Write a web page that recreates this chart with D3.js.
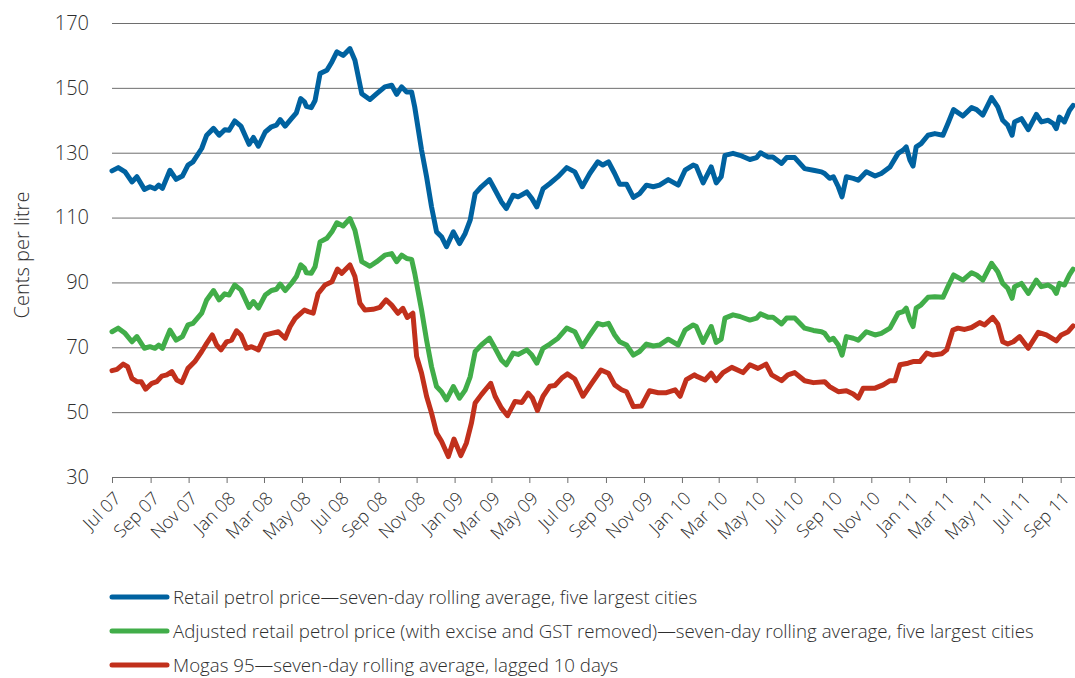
<!DOCTYPE html>
<html>
<head>
<meta charset="utf-8">
<script src="https://cdn.jsdelivr.net/npm/d3@7"></script>
<style>
  body { margin: 0; background: #fff; }
  svg text { font-family: "Open Sans", "Noto Sans", sans-serif; font-weight: 300; fill: #2e2e2e; }
</style>
</head>
<body>
<svg id="chart" width="1075" height="678"></svg>
<script>
// days counted from 1 July 2007
let startDate = new Date(2007, 6, 1);
let endDate = new Date(2011, 8, 24);

let priceDays = [
    0,10,21,32,40,52,61,69,75,81,93,103,113,122,130,144,152,163,172,181,188,197,207,220,227,235,246,256,264,270,278,288,296,303,309,
    312,320,326,334,345,353,361,371,382,390,401,414,425,438,449,457,465,473,481,486,497,505,513,521,529,537,548,558,567,575,583,593,606,615,
    625,633,644,652,666,674,682,692,703,716,730,743,755,767,780,788,797,807,815,826,837,847,858,869,879,893,909,920,933,
    938,949,962,970,978,984,997,1008,1024,1035,1041,1053,1061,1075,1083,1096,1112,1126,1139,1144,1152,1158,1166,1172,1179,1190,1198,1211,
    1225,1235,1249,1262,1270,1275,1281,1286,1291,1299,1310,1321,1334,1342,1351,1366,1380,1388,1398,1412,1422,1430,1438,1445,1449,1460,1471,1484,1492,1503,1511,1516,1521,1529,1537,1543
];

let retailCents = [
    124.4,125.4,124.1,121,122.6,118.7,119.5,118.9,120,119,124.6,121.8,122.8,126.2,127.2,131.3,135.4,137.5,135.4,137.1,136.9,139.8,138.2,132.6,134.7,132,136.4,138,138.5,140.2,138.2,140.5,142.3,146.7,145.7,
    144.3,143.9,146.1,154.4,155.4,158,161.1,160,162.1,158.5,148.2,146.4,148.2,150.3,150.8,148,150.3,148.7,148.7,144.1,130.8,122.6,113.3,105.6,104.1,101,105.6,102,105.1,109.2,117.4,119.5,121.7,118.5,
    114.9,112.8,116.9,116.4,117.9,115.9,113.3,118.9,120.5,122.6,125.4,124.1,119.5,123.6,127.2,126.2,127.2,123.6,120.3,120.3,116.2,117.4,120,119.5,120,121.7,120,124.6,126.2,
    125.8,120.7,125.6,120.7,122.6,129.2,129.8,129.2,127.9,128.5,130,128.7,128.7,126.7,128.5,128.5,125.1,124.6,124.1,123.6,122.1,122.6,119.5,116.4,122.6,122.1,121.5,124.1,
    122.8,123.6,125.6,129.8,130.8,131.8,127.7,125.9,131.8,132.8,135.4,135.9,135.4,139,143.3,141.3,143.9,143.3,141.6,147,144.1,140,138.5,135.4,139.5,140.5,137.1,141.8,139.5,140,139,137.4,141,139.5,143,144.6
];

let adjustedCents = [
    74.8,75.9,74.3,71.7,73.3,69.7,70.2,69.7,70.7,69.7,75.3,72.2,73.3,76.9,77.4,80.5,84.6,87.5,84.6,86.5,86.1,89.2,87.7,82.3,84.1,82.1,86.1,87.5,87.9,89.5,87.5,89.7,91.8,95.4,94.4,
    93,92.8,94.8,102.5,103.6,105.6,108.4,107.4,109.7,106.1,96.4,95,96.4,98.4,98.9,96.4,98.4,97.4,97.1,92.8,81.5,72.2,64,57.9,56.3,53.8,57.9,54.3,56.8,60.9,68.7,70.7,72.8,69.7,
    66.1,64.6,68.2,67.8,69.2,67.6,65.1,69.7,71,72.8,75.9,74.8,70.2,73.8,77.4,76.9,77.4,73.8,71.7,70.7,67.6,68.7,71,70.4,70.7,72.5,70.7,75.3,76.9,
    76.4,71.5,76.4,71.5,72.5,79,80,79.5,78.4,79,80.3,79.3,79.3,77.2,79,79,75.9,75.2,74.8,74.3,72.2,72.8,70.7,67.6,73.3,72.8,72.2,74.8,
    73.8,74.3,75.9,80.5,81,82.1,78.4,76.4,82.1,83.1,85.4,85.6,85.4,88.7,92.3,90.7,93,92.3,90.7,95.9,93.3,89.7,88.2,85.1,88.7,89.7,86.6,90.7,88.7,89.2,88.2,86.6,89.7,89.2,92.3,94.1
];

let mogasDays = [
    0,8,18,25,32,40,47,54,64,72,80,88,96,104,112,122,133,144,152,161,168,175,184,192,200,207,216,224,235,246,256,267,278,286,294,302,309,
    315,323,331,342,353,362,369,374,382,390,398,406,419,430,440,449,459,467,474,483,489,497,505,513,521,529,540,549,560,569,577,583,593,608,615,
    625,635,647,658,668,675,683,692,703,711,722,731,743,756,770,785,797,807,818,826,837,850,863,877,890,904,912,922,935,
    938,952,962,970,981,995,1013,1024,1037,1050,1059,1075,1085,1096,1112,1126,1144,1152,1166,1179,1190,1198,1206,1219,
    1225,1238,1249,1257,1265,1278,1286,1297,1308,1318,1332,1340,1350,1358,1369,1380,1393,1401,1414,1422,1430,1438,1447,1457,1471,1487,1500,1516,1524,1535,1543
];

let mogasCents = [
    62.8,63.2,64.8,64,60.4,59.4,59.4,57.1,58.9,59.4,61.1,61.5,62.5,59.9,59.1,63.5,65.6,68.7,71.2,73.8,70.7,69.2,71.7,72.2,75.1,73.8,69.7,70.2,69.2,73.8,74.3,74.8,72.8,76.4,78.9,80.3,81.5,
    81,80.5,86.6,89.2,90.2,94.1,92.8,93.8,95.4,91.8,83.6,81.5,81.7,82.3,84.6,83,80.5,82,79.2,80.5,67.2,62,54.9,49.7,43.6,41,36.3,41.7,36.6,40.5,46.6,52.8,55.4,58.9,54.9,
    51.3,48.9,53.3,53,55.9,54.3,50.5,54.9,58,58.2,60.5,61.8,60.2,54.9,58.9,63,62,58.4,56.9,56.3,51.7,51.9,56.6,56,56,56.9,54.9,60,61.5,
    61.1,59.9,62,59.7,62.2,63.8,62.2,64.6,63.5,64.8,61.5,59.7,61.5,62.2,59.7,59.1,59.4,57.9,56.3,56.6,55.6,54.3,57.4,57.4,
    57.4,58.4,59.7,59.7,64.6,65.1,65.6,65.6,68.2,67.6,68,69.2,75.3,75.9,75.5,76.1,77.6,76.9,79.2,77.2,71.7,71,71.7,73.3,69.7,74.6,73.8,72,73.8,74.8,76.6
];

let yTicks = [30, 50, 70, 90, 110, 130, 150, 170];

let seriesNames = [
    'Retail petrol price\u2014seven-day rolling average, five largest cities',
    'Adjusted retail petrol price (with excise and GST removed)\u2014seven-day rolling average, five largest cities',
    'Mogas 95\u2014seven-day rolling average, lagged 10 days'
];
let seriesColors = ['#0062a0', '#41ad49', '#c1301c'];

let margin = {top: 23, right: 0, bottom: 201, left: 112};
let width = 1075 - margin.left - margin.right;
let height = 678 - margin.top - margin.bottom;

let svg = d3.select('#chart');
let g = svg.append('g')
    .attr('transform', 'translate(' + margin.left + ',' + margin.top + ')');

let x = d3.scaleTime()
    .domain([startDate, endDate])
    .range([0, width]);

let y = d3.scaleLinear()
    .domain([30, 170])
    .range([height, 0]);

// gridlines + y labels
let yAxis = g.append('g')
    .call(d3.axisLeft(y).tickValues(yTicks).tickSize(-width).tickPadding(23));
yAxis.select('.domain').remove();
yAxis.selectAll('line').attr('stroke', '#6e6e6e').attr('stroke-width', 1);
yAxis.selectAll('text').style('font-size', '20px');

// x axis ticks, every second month
let xAxis = g.append('g')
    .attr('transform', 'translate(0,' + height + ')')
    .call(d3.axisBottom(x)
        .ticks(d3.timeMonth.every(2))
        .tickSize(6)
        .tickFormat(d3.timeFormat('%b %y')));
xAxis.select('.domain').remove();
xAxis.selectAll('line').attr('stroke', '#6e6e6e');
xAxis.selectAll('text')
    .style('font-size', '18px')
    .attr('x', 0)
    .attr('y', 0)
    .attr('dy', '0.35em')
    .attr('text-anchor', 'end')
    .attr('transform', 'translate(5,18) rotate(-45)');

// y axis title
svg.append('text')
    .attr('transform', 'translate(29,255) rotate(-90)')
    .attr('text-anchor', 'middle')
    .style('font-size', '20px')
    .text('Cents per litre');

function zip(days, vals) {
    return days.map(function(d, i) { return {date: d3.timeDay.offset(startDate, d), value: vals[i]}; });
}

let series = [
    zip(priceDays, retailCents),
    zip(priceDays, adjustedCents),
    zip(mogasDays, mogasCents)
];

let line = d3.line()
    .x(function(d) { return x(d.date); })
    .y(function(d) { return y(d.value); });

// draw red first so blue sits on top
[2, 1, 0].forEach(function(i) {
    g.append('path')
        .datum(series[i])
        .attr('fill', 'none')
        .attr('stroke', seriesColors[i])
        .attr('stroke-width', 5)
        .attr('stroke-linejoin', 'round')
        .attr('stroke-linecap', 'round')
        .attr('d', line);
});

// legend
let legend = svg.append('g').attr('transform', 'translate(112,597)');
seriesNames.forEach(function(name, i) {
    let row = legend.append('g').attr('transform', 'translate(0,' + (i * 34) + ')');
    row.append('line')
        .attr('x1', 0).attr('x2', 55)
        .attr('y1', 0).attr('y2', 0)
        .attr('stroke', seriesColors[i])
        .attr('stroke-width', 5)
        .attr('stroke-linecap', 'round');
    row.append('text')
        .attr('x', 61)
        .attr('y', 0)
        .attr('dy', '0.35em')
        .style('font-size', '18.7px')
        .text(name);
});
</script>
</body>
</html>
